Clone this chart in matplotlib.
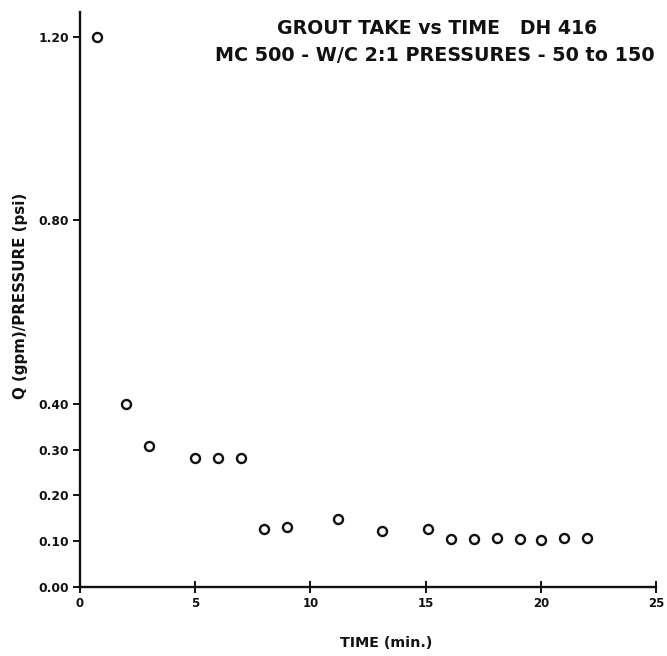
import matplotlib
matplotlib.use("Agg")
import matplotlib.pyplot as plt

# Data
time_min = [0.75, 2, 3, 5, 6, 7, 8, 9, 11.2, 13.1, 15.1, 16.1, 17.1, 18.1, 19.1, 20.0, 21.0, 22.0]
q_per_p = [1.20, 0.40, 0.307, 0.282, 0.282, 0.282, 0.127, 0.131, 0.148, 0.122, 0.127, 0.105, 0.105, 0.107, 0.105, 0.103, 0.107, 0.107]
x_ticks = [0, 5, 10, 15, 20, 25]
y_ticks = [0.00, 0.10, 0.20, 0.30, 0.40, 0.80, 1.20]
y_tick_labels = ["0.00", "0.10", "0.20", "0.30", "0.40", "0.80", "1.20"]
title_lines = ["GROUT TAKE vs TIME   DH 416", "MC 500 - W/C 2:1 PRESSURES - 50 to 150"]
x_label = "TIME (min.)"
y_label = "Q (gpm)/PRESSURE (psi)"

plt.rcParams['font.family'] = ['DejaVu Sans']
plt.rcParams['font.weight'] = 'bold'

fig = plt.figure(figsize=(6.67, 6.56), dpi=100)
ax = fig.add_axes([0.120, 0.1052, 0.8635, 0.8765])

ax.plot(time_min, q_per_p, linestyle='none', marker='o', markersize=6.5,
        markerfacecolor='white', markeredgecolor='#111111', markeredgewidth=1.7)

ax.set_xlim(0, 25)
ax.set_ylim(0, 1.255)
ax.set_xticks(x_ticks)
ax.set_xticklabels([str(t) for t in x_ticks], fontsize=8.5, fontweight='heavy')
ax.set_yticks(y_ticks)
ax.set_yticklabels(y_tick_labels, fontsize=8.8, fontweight='heavy')

for s in ['top', 'right']:
    ax.spines[s].set_visible(False)
for s in ['left', 'bottom']:
    ax.spines[s].set_linewidth(1.7)
    ax.spines[s].set_color('#111111')

ax.tick_params(axis='x', direction='inout', length=9, width=1.4, pad=3, colors='#111111')
ax.tick_params(axis='y', direction='out', length=5, width=1.4, pad=3, colors='#111111')
for sp in ax.spines.values():
    sp.set_clip_on(False)

fig.text(0.655, 0.956, title_lines[0], ha='center', va='center', fontsize=13.6, fontweight='heavy', color='#111111')
fig.text(0.652, 0.916, title_lines[1], ha='center', va='center', fontsize=13.8, fontweight='heavy', color='#111111')
fig.text(386 / 667, 1 - 643 / 656, x_label, ha='center', va='center', fontsize=10.3, fontweight='heavy', color='#111111')
fig.text(21 / 667, 1 - 296 / 656, y_label, ha='center', va='center', rotation=90, fontsize=10.8, fontweight='heavy', color='#111111')

fig.savefig("out.png", dpi=100, facecolor='white')
